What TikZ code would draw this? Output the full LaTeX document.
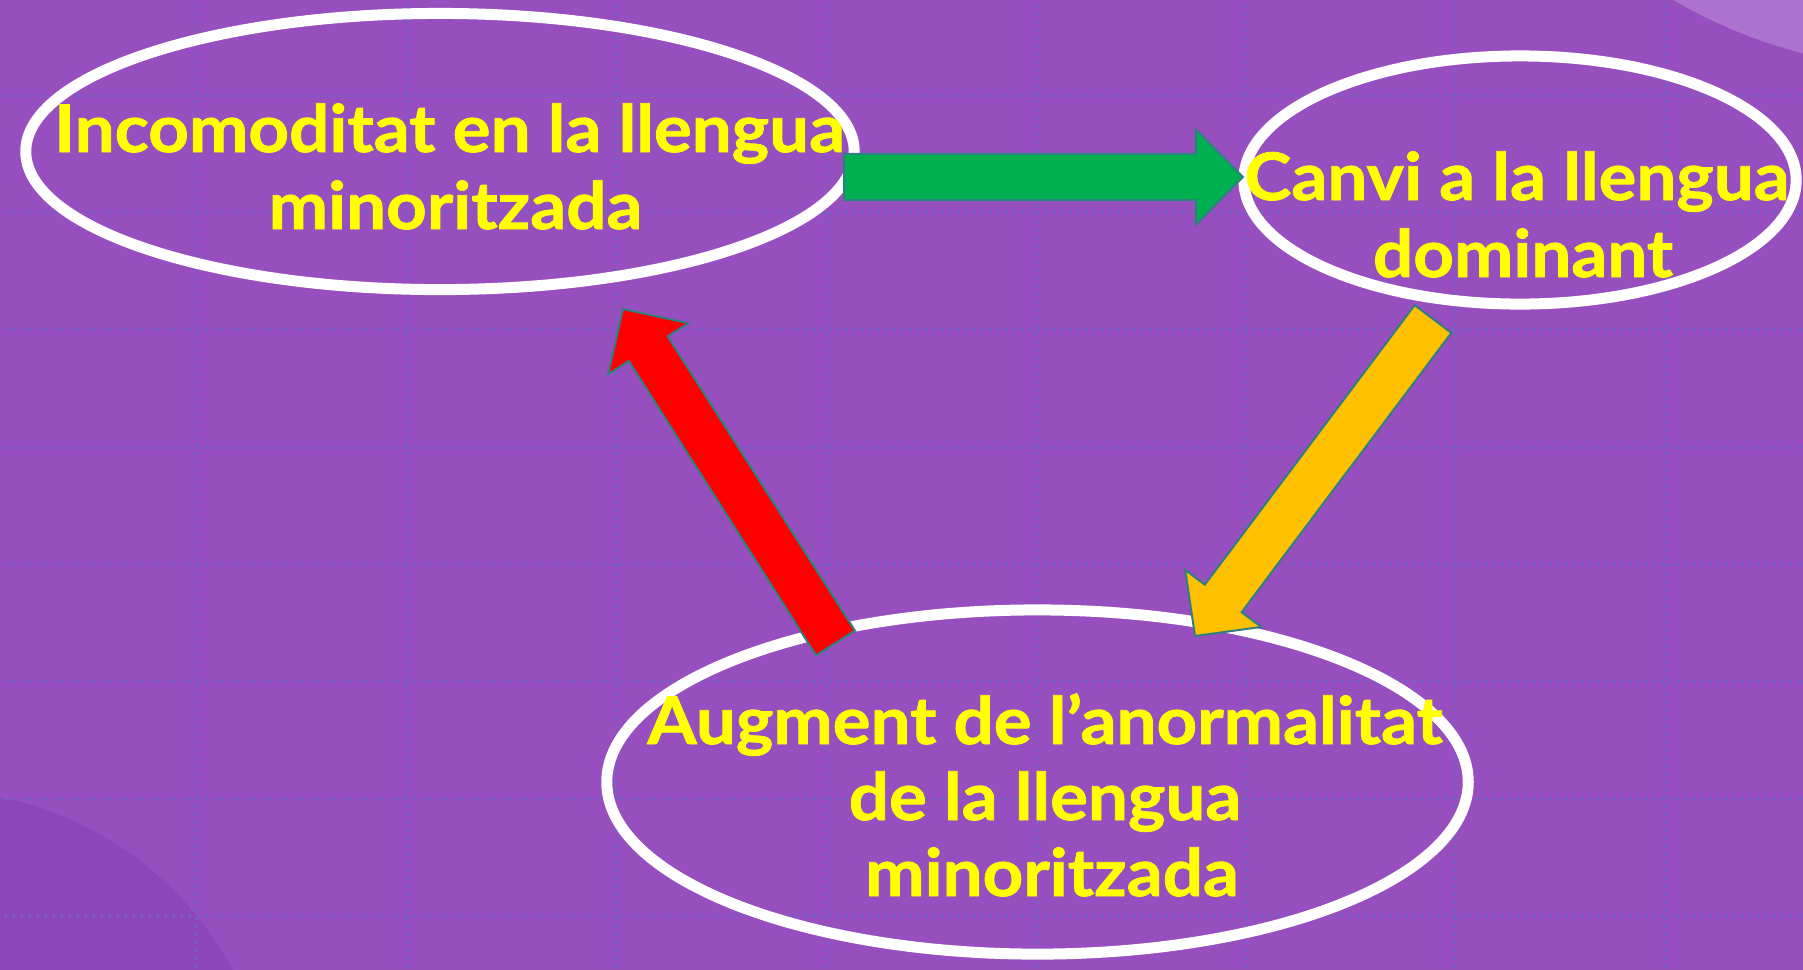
\documentclass[tikz,border=0pt]{standalone}
\usepackage{fontspec}
\setmainfont{Lato}[BoldFeatures={FakeStretch=1.08,FakeBold=1.2}]
\usetikzlibrary{calc,shapes.geometric}
\definecolor{bgp}{HTML}{974FC0}
\definecolor{bgdark}{HTML}{8D46B7}
\definecolor{bglight}{HTML}{AC72CF}
\definecolor{gridc}{HTML}{765FC4}
\definecolor{arrline}{HTML}{2F8080}
\definecolor{agreen}{HTML}{00B050}
\definecolor{ayellow}{HTML}{FFC000}
\definecolor{ared}{HTML}{FF0000}
\definecolor{txt}{HTML}{FFFF00}
\newcommand\blockarr[3]{%
  \coordinate (ab) at ($(#3)!0.47cm!(#2)$);
  \draw[#1] ($(#2)!0.23cm!90:(#3)$) -- ($(ab)!0.23cm!90:(#3)$) -- ($(ab)!0.475cm!90:(#3)$) -- (#3)
    -- ($(ab)!0.475cm!-90:(#3)$) -- ($(ab)!0.23cm!-90:(#3)$) -- ($(#2)!0.23cm!-90:(#3)$) -- cycle;
}
\tikzset{
  gridline/.style={gridc, line width=0.03cm, dash pattern=on 0.03cm off 0.05cm},
  oval/.style={ellipse, draw=white, line width=0.11cm, inner sep=0pt},
  blockarrow/.style={draw=arrline, line width=0.02cm, line join=miter},
  label/.style={text=txt, inner sep=0pt, anchor=base, font=\fontsize{18.66pt}{22pt}\selectfont\bfseries}
}
\begin{document}
\begin{tikzpicture}[x=0.01cm,y=-0.01cm]
\useasboundingbox (0,0) rectangle (1803,969);
\begin{scope}
  \clip (0,0) rectangle (1803,969);
  \fill[bgp] (-20,-20) rectangle (1823,989);
  \fill[bgdark] (-66,1129) circle[radius=3.38cm];
  \fill[bglight] (1930,-440) circle[radius=5.09cm];
  \foreach \gx in {196,406,616,826,1036,1245,1455,1665} \draw[gridline] (\gx,-20) -- (\gx,990);
  \foreach \gy in {95,212,329,447,564,681,798,915} \draw[gridline] (-20,\gy) -- (1823,\gy);
\end{scope}
% ellipses
\node[oval, minimum width=8.28cm, minimum height=2.76cm] (e1) at (440,151.5) {};
\node[oval, minimum width=5.52cm, minimum height=2.48cm] (e2) at (1520,180) {};
\node[oval, minimum width=8.61cm, minimum height=3.44cm] (e3) at (1037.5,782) {};
% arrow end points
\coordinate (gT) at (844,177);   \coordinate (gP) at (1243,177);
\coordinate (yT) at (1433,319);  \coordinate (yP) at (1195,636);
\coordinate (rT) at (835.5,643); \coordinate (rP) at (623,309);
\blockarr{blockarrow, fill=agreen}{gT}{gP}
\blockarr{blockarrow, fill=ayellow}{yT}{yP}
\blockarr{blockarrow, fill=ared}{rT}{rP}
% texts
\node[label] (t1a) at (449.5,152) {Incomoditat en la llengua};
\node[label] (t1b) at (455.5,229) {minoritzada};
\node[label] (t2a) at (1517,200) {Canvi a la llengua};
\node[label] (t2b) at (1523,277) {dominant};
\node[label] (t3a) at (1045,744) {Augment de l’anormalitat};
\node[label] (t3b) at (1045,820) {de la llengua};
\node[label] (t3c) at (1052,896) {minoritzada};
\end{tikzpicture}
\end{document}
